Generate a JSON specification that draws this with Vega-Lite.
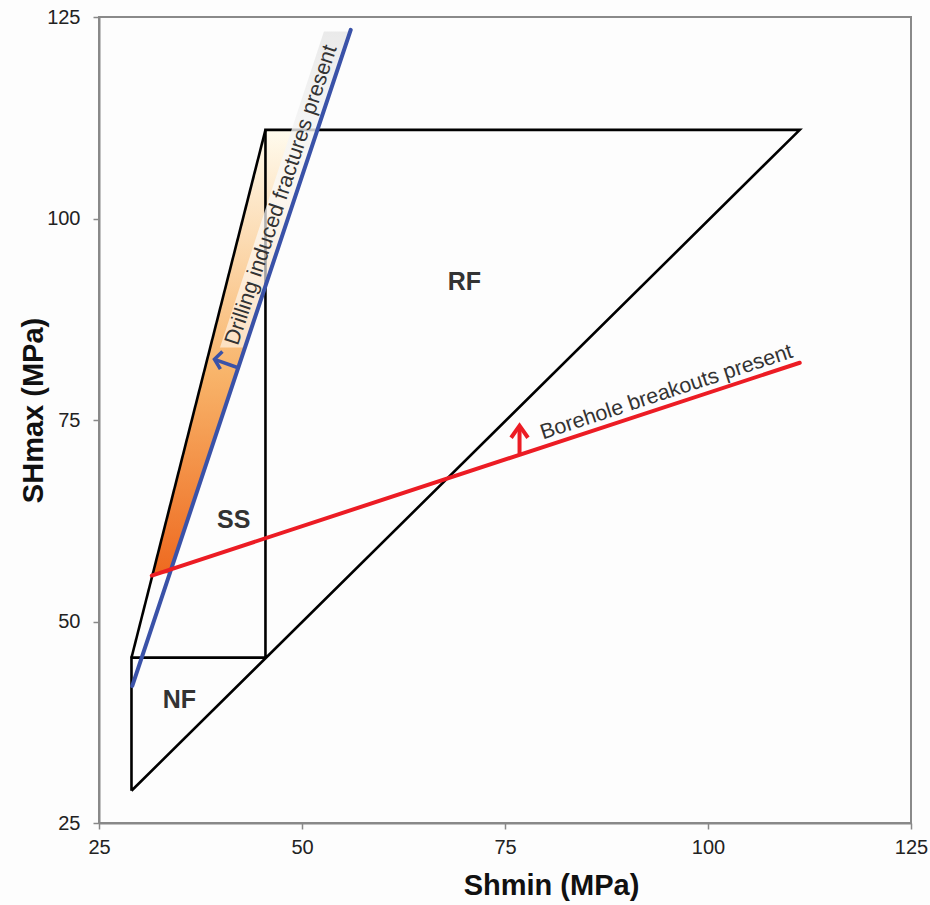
{
  "$schema": "https://vega.github.io/schema/vega-lite/v6.json",
  "width": 812,
  "height": 806,
  "autosize": "none",
  "padding": {"left": 99, "top": 17, "right": 19, "bottom": 82},
  "background": "#fdfdfd",
  "config": {"view": {"stroke": "#8a8a8a", "strokeWidth": 2}, "font": "Liberation Sans"},
  "datasets": {
    "fill": [{"y": 56, "xl": 31.65, "xr": 33.73}, {"y": 111, "xl": 45.5, "xr": 51.9}],
    "band": [{"y": 84, "xl": 39.9, "xr": 42.8}, {"y": 123.2, "xl": 52.7, "xr": 55.75}],
    "polygon": [
      {"seg": "a", "o": 1, "x": 29, "y": 29},
      {"seg": "a", "o": 2, "x": 111.3, "y": 111},
      {"seg": "a", "o": 3, "x": 45.5, "y": 111},
      {"seg": "a", "o": 4, "x": 45.5, "y": 45.5},
      {"seg": "a", "o": 5, "x": 29, "y": 45.5},
      {"seg": "a", "o": 6, "x": 29, "y": 29},
      {"seg": "b", "o": 1, "x": 29, "y": 45.5},
      {"seg": "b", "o": 2, "x": 45.5, "y": 111},
      {"seg": "c", "o": 1, "x": 29, "y": 45.5},
      {"seg": "c", "o": 2, "x": 45.5, "y": 45.5}
    ],
    "blue": [{"x": 29.1, "y": 42}, {"x": 56, "y": 123.4}],
    "red": [{"x": 31.5, "y": 55.7}, {"x": 111.3, "y": 82.1}],
    "bluearrow": [
      {"seg": "s", "o": 1, "x": 42.3, "y": 81.42},
      {"seg": "s", "o": 2, "x": 39.3, "y": 82.5},
      {"seg": "h", "o": 1, "x": 40.2, "y": 83.5},
      {"seg": "h", "o": 2, "x": 39.22, "y": 82.54},
      {"seg": "h", "o": 3, "x": 39.95, "y": 81.3}
    ],
    "redarrow": [
      {"seg": "s", "o": 1, "x": 76.79, "y": 70.8},
      {"seg": "s", "o": 2, "x": 76.79, "y": 74.2},
      {"seg": "h", "o": 1, "x": 75.75, "y": 72.8},
      {"seg": "h", "o": 2, "x": 76.79, "y": 74.3},
      {"seg": "h", "o": 3, "x": 77.83, "y": 72.8}
    ],
    "regions": [
      {"t": "RF", "x": 70, "y": 92.1},
      {"t": "SS", "x": 41.6, "y": 62.6},
      {"t": "NF", "x": 34.9, "y": 40.3}
    ],
    "drill": [{"t": "Drilling induced fractures present", "x": 47.5, "y": 102.9}],
    "bore": [{"t": "Borehole breakouts present", "x": 94.9, "y": 78.4}]
  },
  "layer": [
    {
      "data": {"name": "fill"},
      "mark": {"type": "area", "orient": "horizontal", "fill": {"gradient": "linear", "x1": 0, "y1": 1, "x2": 0, "y2": 0, "stops": [{"offset": 0, "color": "#ee6a20"}, {"offset": 0.45, "color": "#f8b46a"}, {"offset": 1, "color": "#fffbee"}]}, "stroke": null},
      "encoding": {
        "y": {"field": "y", "type": "quantitative", "scale": {"domain": [25, 125], "nice": false, "zero": false},
          "axis": {"title": "SHmax (MPa)", "values": [25, 50, 75, 100, 125], "grid": false, "domainColor": "#888", "domainWidth": 2, "tickColor": "#888", "tickWidth": 1.5, "tickSize": 6, "labelFontSize": 20, "labelColor": "#222", "labelPadding": 13, "labelFlush": false, "labelOverlap": false, "titleFontSize": 29, "titleFontWeight": "bold", "titleColor": "#111", "titleX": -57, "titleY": 393, "titleBaseline": "alphabetic", "titleAngle": 270}},
        "x": {"field": "xl", "type": "quantitative", "scale": {"domain": [25, 125], "nice": false, "zero": false},
          "axis": {"title": "Shmin (MPa)", "values": [25, 50, 75, 100, 125], "grid": false, "domainColor": "#888", "domainWidth": 2, "tickColor": "#888", "tickWidth": 1.5, "tickSize": 6, "labelFontSize": 20, "labelColor": "#222", "labelPadding": 8, "labelFlush": false, "labelOverlap": false, "titleFontSize": 29, "titleFontWeight": "bold", "titleColor": "#111", "titleX": 452, "titleY": 71, "titleBaseline": "alphabetic"}},
        "x2": {"field": "xr"}
      }
    },
    {
      "data": {"name": "polygon"},
      "mark": {"type": "line", "color": "#000000", "strokeWidth": 2.6, "strokeJoin": "miter"},
      "encoding": {
        "x": {"field": "x", "type": "quantitative"},
        "y": {"field": "y", "type": "quantitative"},
        "detail": {"field": "seg"},
        "order": {"field": "o"}
      }
    },
    {
      "data": {"name": "band"},
      "mark": {"type": "area", "orient": "horizontal", "fill": {"gradient": "linear", "x1": 0, "y1": 1, "x2": 0, "y2": 0, "stops": [{"offset": 0, "color": "rgba(255,255,255,0.55)"}, {"offset": 0.5, "color": "rgba(250,250,250,0.75)"}, {"offset": 1, "color": "rgba(232,232,232,0.9)"}]}, "stroke": null},
      "encoding": {
        "y": {"field": "y", "type": "quantitative"},
        "x": {"field": "xl", "type": "quantitative"},
        "x2": {"field": "xr"}
      }
    },
    {
      "data": {"name": "blue"},
      "mark": {"type": "line", "color": "#3a52a8", "strokeWidth": 4, "strokeCap": "round"},
      "encoding": {
        "x": {"field": "x", "type": "quantitative"},
        "y": {"field": "y", "type": "quantitative"}
      }
    },
    {
      "data": {"name": "red"},
      "mark": {"type": "line", "color": "#ec1c24", "strokeWidth": 4, "strokeCap": "round"},
      "encoding": {
        "x": {"field": "x", "type": "quantitative"},
        "y": {"field": "y", "type": "quantitative"}
      }
    },
    {
      "data": {"name": "bluearrow"},
      "mark": {"type": "line", "color": "#3a52a8", "strokeWidth": 3.5, "strokeJoin": "miter"},
      "encoding": {
        "x": {"field": "x", "type": "quantitative"},
        "y": {"field": "y", "type": "quantitative"},
        "detail": {"field": "seg"},
        "order": {"field": "o"}
      }
    },
    {
      "data": {"name": "redarrow"},
      "mark": {"type": "line", "color": "#ec1c24", "strokeWidth": 4, "strokeJoin": "miter"},
      "encoding": {
        "x": {"field": "x", "type": "quantitative"},
        "y": {"field": "y", "type": "quantitative"},
        "detail": {"field": "seg"},
        "order": {"field": "o"}
      }
    },
    {
      "data": {"name": "regions"},
      "mark": {"type": "text", "fontSize": 25, "fontWeight": "bold", "color": "#333333", "align": "center", "baseline": "middle"},
      "encoding": {
        "x": {"field": "x", "type": "quantitative"},
        "y": {"field": "y", "type": "quantitative"},
        "text": {"field": "t"}
      }
    },
    {
      "data": {"name": "drill"},
      "mark": {"type": "text", "fontSize": 21.5, "color": "#333333", "align": "center", "baseline": "middle", "angle": 288.4},
      "encoding": {
        "x": {"field": "x", "type": "quantitative"},
        "y": {"field": "y", "type": "quantitative"},
        "text": {"field": "t"}
      }
    },
    {
      "data": {"name": "bore"},
      "mark": {"type": "text", "fontSize": 21.5, "color": "#333333", "align": "center", "baseline": "middle", "angle": 341.8},
      "encoding": {
        "x": {"field": "x", "type": "quantitative"},
        "y": {"field": "y", "type": "quantitative"},
        "text": {"field": "t"}
      }
    }
  ]
}
